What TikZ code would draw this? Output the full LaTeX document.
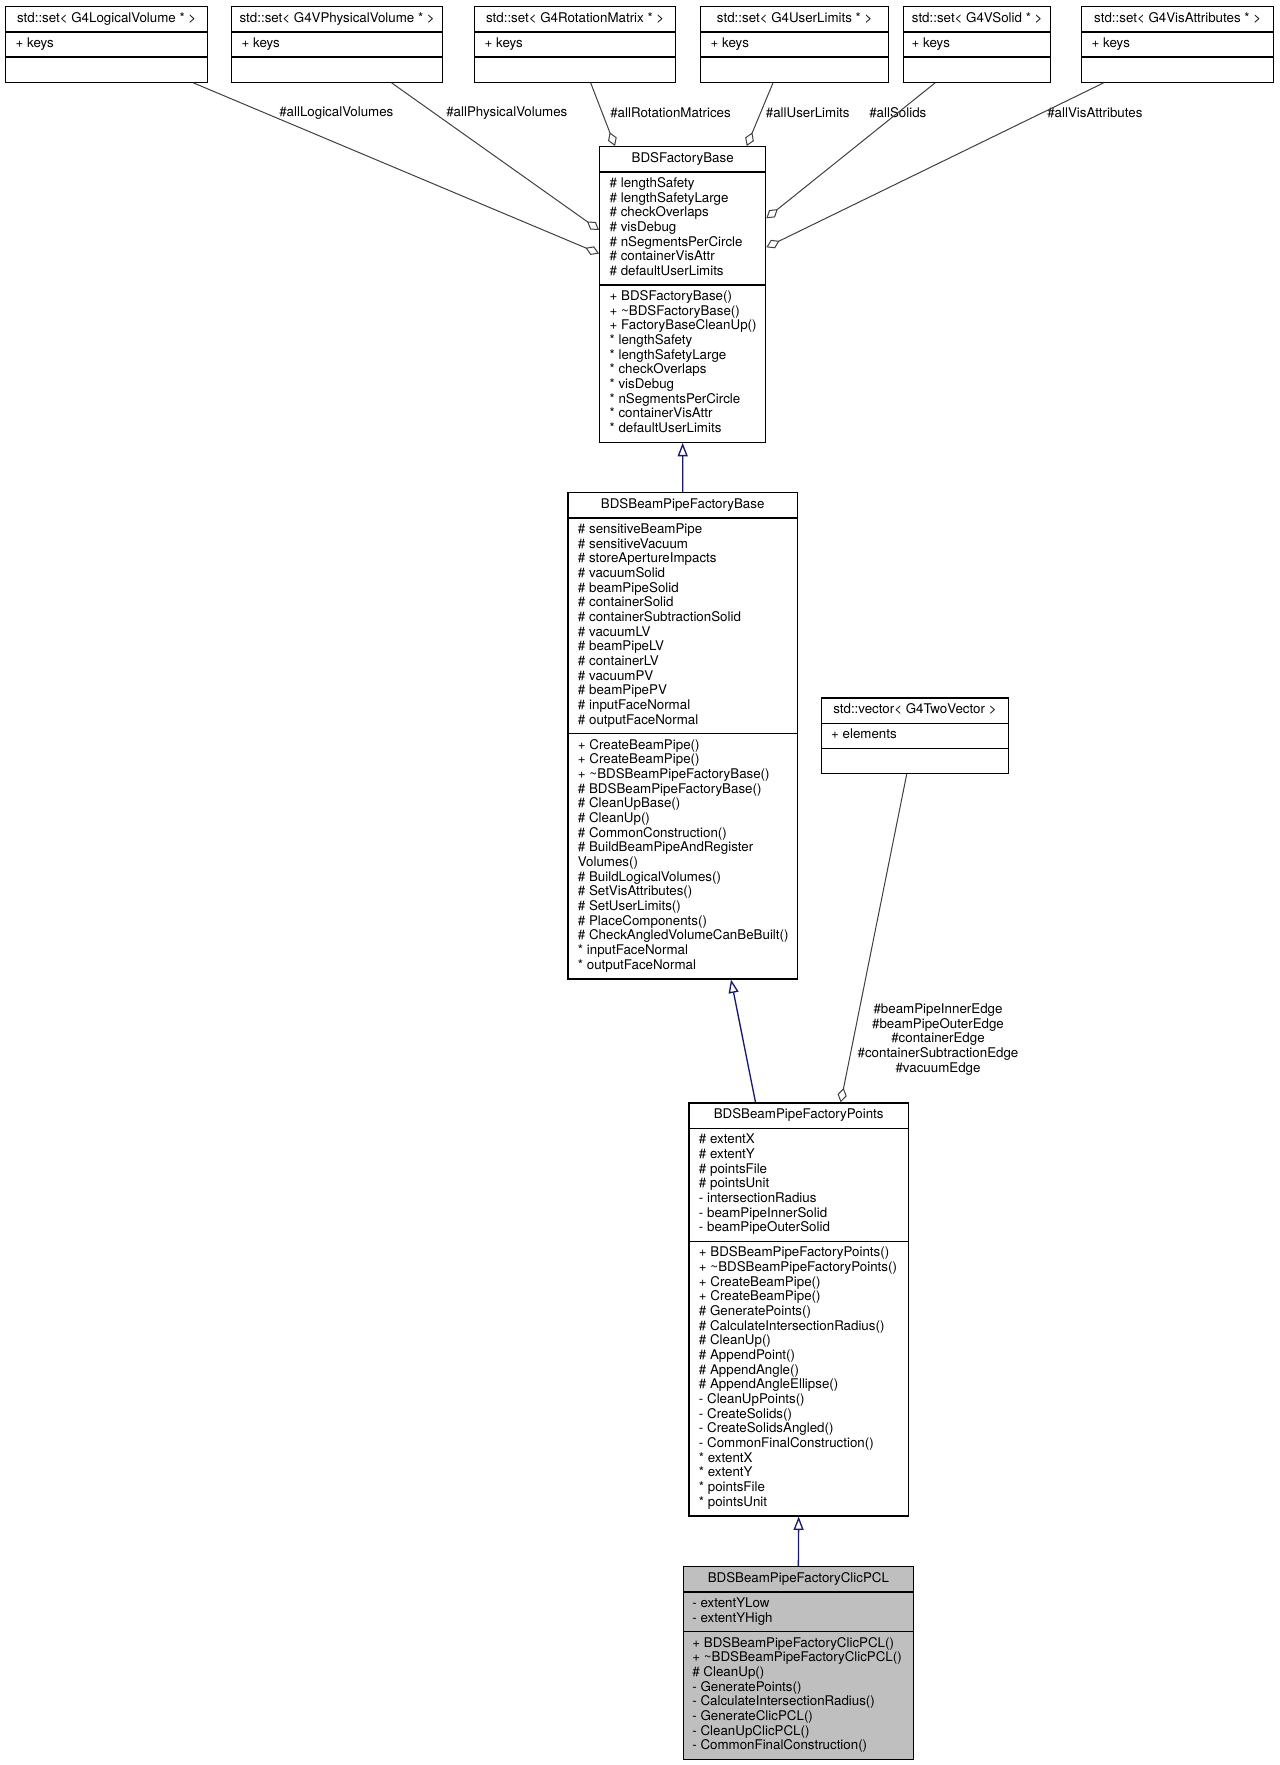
\documentclass[tikz,border=0pt]{standalone}
\usepackage{fontspec}
\setmainfont{TeX Gyre Heros}
\usetikzlibrary{shapes.multipart,arrows.meta,calc}
\definecolor{umlgray}{HTML}{BFBFBF}
\definecolor{genblue}{HTML}{191970}
\definecolor{aggline}{HTML}{404040}
\newlength\umlw
\newcommand\ut[1]{\hbox to\umlw{\hss\strut#1\hss}}
\newcommand\ur[1]{\hbox to\umlw{\strut#1\hss}}
\newcommand\uv[1]{\vbox{#1}}
\tikzset{
 umlwidth/.code={\pgfmathsetmacro\umltmp{#1}\global\umlw=\umltmp pt\relax},
 cls/.style n args={2}{rectangle split, rectangle split parts=3, draw=black, line width=1pt,
   inner xsep=#2*0.75pt, inner ysep=3.45pt, anchor=north west, umlwidth={(#1-2*#2)*0.75},
   font=\fontsize{10}{11}\selectfont},
 agg/.style={draw=aggline, line width=0.75pt, -{Diamond[open,length=11pt,width=7pt]}},
 gen/.style={draw=genblue, line width=1pt, -{Triangle[open,length=10pt,width=7.5pt]}},
 lbl/.style={inner sep=0pt, anchor=west, font=\fontsize{10}{11}\selectfont},
}
\begin{document}
\begin{tikzpicture}[x=0.75pt,y=-0.75pt]
\fill[white] (0,0) rectangle (1279,1765);
\useasboundingbox (0,0) rectangle (1279,1765);

% top row
\node[cls={202}{10}] (lv) at (5,6) {\uv{\ut{std::set< G4LogicalVolume * >}}\nodepart{second}\uv{\ur{+ keys}}\nodepart{third}\uv{\ur{}}};
\node[cls={211}{10}] (pv) at (231,6) {\uv{\ut{std::set< G4VPhysicalVolume * >}}\nodepart{second}\uv{\ur{+ keys}}\nodepart{third}\uv{\ur{}}};
\node[cls={201}{10}] (rm) at (474,6) {\uv{\ut{std::set< G4RotationMatrix * >}}\nodepart{second}\uv{\ur{+ keys}}\nodepart{third}\uv{\ur{}}};
\node[cls={188}{10}] (ul) at (700,6) {\uv{\ut{std::set< G4UserLimits * >}}\nodepart{second}\uv{\ur{+ keys}}\nodepart{third}\uv{\ur{}}};
\node[cls={147}{8}] (so) at (903,6) {\uv{\ut{std::set< G4VSolid * >}}\nodepart{second}\uv{\ur{+ keys}}\nodepart{third}\uv{\ur{}}};
\node[cls={192}{10}] (va) at (1081,6) {\uv{\ut{std::set< G4VisAttributes * >}}\nodepart{second}\uv{\ur{+ keys}}\nodepart{third}\uv{\ur{}}};

% BDSFactoryBase
\node[cls={166}{10}] (fb) at (599,146) {\uv{\ut{BDSFactoryBase}}\nodepart{second}\uv{%
\ur{\# lengthSafety}\ur{\# lengthSafetyLarge}\ur{\# checkOverlaps}\ur{\# visDebug}%
\ur{\# nSegmentsPerCircle}\ur{\# containerVisAttr}\ur{\# defaultUserLimits}}%
\nodepart{third}\uv{%
\ur{+ BDSFactoryBase()}\ur{+ \textasciitilde BDSFactoryBase()}\ur{+ FactoryBaseCleanUp()}%
\ur{* lengthSafety}\ur{* lengthSafetyLarge}\ur{* checkOverlaps}\ur{* visDebug}%
\ur{* nSegmentsPerCircle}\ur{* containerVisAttr}\ur{* defaultUserLimits}}};

% BDSBeamPipeFactoryBase
\node[cls={229.5}{10}] (bpb) at (567.3,492) {\uv{\ut{BDSBeamPipeFactoryBase}}\nodepart{second}\uv{%
\ur{\# sensitiveBeamPipe}\ur{\# sensitiveVacuum}\ur{\# storeApertureImpacts}\ur{\# vacuumSolid}%
\ur{\# beamPipeSolid}\ur{\# containerSolid}\ur{\# containerSubtractionSolid}\ur{\# vacuumLV}%
\ur{\# beamPipeLV}\ur{\# containerLV}\ur{\# vacuumPV}\ur{\# beamPipePV}%
\ur{\# inputFaceNormal}\ur{\# outputFaceNormal}}%
\nodepart{third}\uv{%
\ur{+ CreateBeamPipe()}\ur{+ CreateBeamPipe()}\ur{+ \textasciitilde BDSBeamPipeFactoryBase()}%
\ur{\# BDSBeamPipeFactoryBase()}\ur{\# CleanUpBase()}\ur{\# CleanUp()}\ur{\# CommonConstruction()}%
\ur{\# BuildBeamPipeAndRegister}\ur{Volumes()}\ur{\# BuildLogicalVolumes()}%
\ur{\# SetVisAttributes()}\ur{\# SetUserLimits()}\ur{\# PlaceComponents()}%
\ur{\# CheckAngledVolumeCanBeBuilt()}\ur{* inputFaceNormal}\ur{* outputFaceNormal}}};

% std::vector
\node[cls={187.5}{10}] (vec) at (820.5,697.3) {\uv{\ut{std::vector< G4TwoVector >}}\nodepart{second}\uv{\ur{+ elements}}\nodepart{third}\uv{\ur{}}};

% BDSBeamPipeFactoryPoints
\node[cls={219.4}{10}] (pts) at (688.3,1102.3) {\uv{\ut{BDSBeamPipeFactoryPoints}}\nodepart{second}\uv{%
\ur{\# extentX}\ur{\# extentY}\ur{\# pointsFile}\ur{\# pointsUnit}%
\ur{- intersectionRadius}\ur{- beamPipeInnerSolid}\ur{- beamPipeOuterSolid}}%
\nodepart{third}\uv{%
\ur{+ BDSBeamPipeFactoryPoints()}\ur{+ \textasciitilde BDSBeamPipeFactoryPoints()}%
\ur{+ CreateBeamPipe()}\ur{+ CreateBeamPipe()}\ur{\# GeneratePoints()}%
\ur{\# CalculateIntersectionRadius()}\ur{\# CleanUp()}\ur{\# AppendPoint()}%
\ur{\# AppendAngle()}\ur{\# AppendAngleEllipse()}\ur{- CleanUpPoints()}%
\ur{- CreateSolids()}\ur{- CreateSolidsAngled()}\ur{- CommonFinalConstruction()}%
\ur{* extentX}\ur{* extentY}\ur{* pointsFile}\ur{* pointsUnit}}};

% BDSBeamPipeFactoryClicPCL
\node[cls={230}{9}, fill=umlgray] (clic) at (682.7,1566) {\uv{\ut{BDSBeamPipeFactoryClicPCL}}\nodepart{second}\uv{%
\ur{- extentYLow}\ur{- extentYHigh}}%
\nodepart{third}\uv{%
\ur{+ BDSBeamPipeFactoryClicPCL()}\ur{+ \textasciitilde BDSBeamPipeFactoryClicPCL()}%
\ur{\# CleanUp()}\ur{- GeneratePoints()}\ur{- CalculateIntersectionRadius()}%
\ur{- GenerateClicPCL()}\ur{- CleanUpClicPCL()}\ur{- CommonFinalConstruction()}}};

% labels
\node[lbl] (llv) at (279,112.6) {\#allLogicalVolumes};
\node[lbl] (lpv) at (446,112.6) {\#allPhysicalVolumes};
\node[lbl] (lrm) at (610,112.6) {\#allRotationMatrices};
\node[lbl] (lul) at (765.6,112.6) {\#allUserLimits};
\node[lbl] (lso) at (869,112.6) {\#allSolids};
\node[lbl] (lva) at (1047,112.6) {\#allVisAttributes};
\node[inner sep=0pt, align=center, font=\fontsize{10}{11}\selectfont] (lvec) at (938,1039.3)
  {\#beamPipeInnerEdge\\\#beamPipeOuterEdge\\\#containerEdge\\\#containerSubtractionEdge\\\#vacuumEdge};

% aggregation connectors
\draw[agg] ($(lv.south west)+(188.5,0)$) -- ($(fb.north west)+(0,107.5)$);
\draw[agg] ($(pv.south west)+(160.7,0)$) -- ($(fb.north west)+(0,84)$);
\draw[agg] ($(rm.south west)+(116.7,0)$) -- ($(fb.north west)+(16,0)$);
\draw[agg] ($(ul.south west)+(73,0)$) -- ($(fb.north west)+(147.7,0)$);
\draw[agg] ($(so.south west)+(32,0)$) -- ($(fb.north east)+(0,72.3)$);
\draw[agg] ($(va.south west)+(22.5,0)$) -- ($(fb.north east)+(0,101.3)$);
\draw[agg] ($(vec.south west)+(86.2,0)$) -- ($(pts.north west)+(152.4,0)$);

% generalization connectors
\draw[gen] (bpb.north) -- (fb.south);
\draw[gen] ($(pts.north west)+(67.2,0)$) -- ($(bpb.south west)+(163.7,0)$);
\draw[gen] (clic.north) -- (pts.south);
\end{tikzpicture}
\end{document}
